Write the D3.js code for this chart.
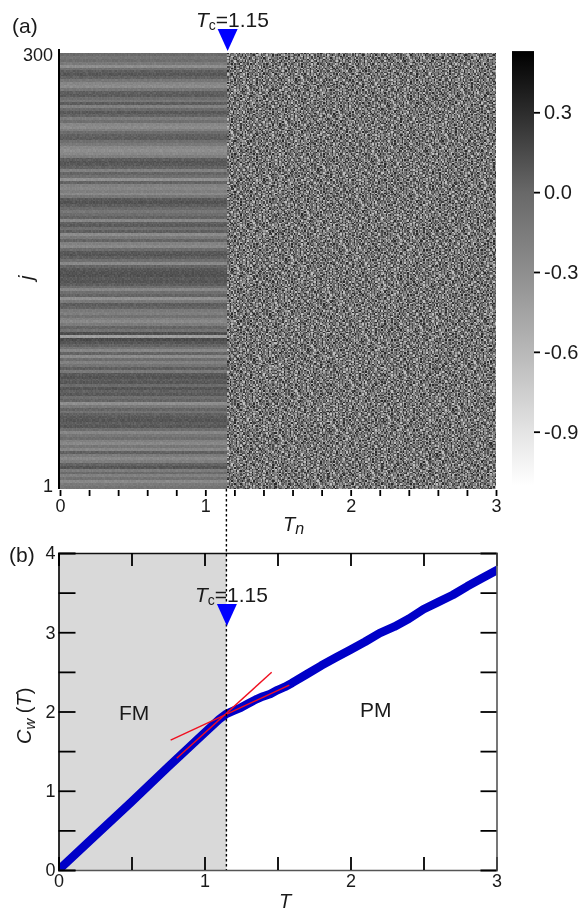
<!DOCTYPE html>
<html>
<head>
<meta charset="utf-8">
<script src="https://cdn.jsdelivr.net/npm/d3@7"></script>
<style>
  html, body { margin: 0; padding: 0; background: #fff; }
  #wrap { position: relative; width: 582px; height: 909px; overflow: hidden; }
  canvas, svg { position: absolute; left: 0; top: 0; }
  text { font-family: "Liberation Sans", Arial, sans-serif; fill: #1a1a1a; }
</style>
</head>
<body>
<div id="wrap">
  <canvas id="heat" width="582" height="909"></canvas>
  <svg id="chart" width="582" height="909"></svg>
</div>
<script>
const Tc = 1.15;

// colour bar stops
const barValues = [0.53, 0.3, 0, -0.3, -0.6, -0.9, -1.1];
const barGrays = ['#000000', '#2c2c2c', '#686868', '#8e8e8e', '#b8b8b8', '#e4e4e4', '#ffffff'];
const barTicks = [0.3, 0, -0.3, -0.6, -0.9];

// panel (a), FM side: level of each horizontal band, two rows per entry, top (j=300) to bottom.
// estimated by eye from the stripes
const fmBands = [
  -0.03, -0.10, -0.05, -0.14, -0.30, -0.06, 0.05, 0.08, 0.02, -0.12,
  -0.24, -0.28, -0.12, 0.04, 0.06, -0.05, -0.12, 0.05, -0.20, -0.02,
  0.07, 0.02, -0.16, -0.06, -0.24, -0.28, -0.18, -0.04, 0.03, 0.05,
  -0.06, -0.14, -0.26, -0.30, -0.26, -0.18, 0.05, 0.09, 0.07, 0.02,
  -0.20, 0.01, -0.06, -0.32, 0.01, -0.20, -0.24, -0.18, -0.26, -0.12,
  0.07, 0.10, 0.05, -0.03, -0.12, -0.05, 0.02, -0.24, 0.03, 0.06,
  -0.06, 0.04, -0.28, -0.14, 0.01, -0.20, -0.26, -0.04, 0.07, 0.09,
  0.04, -0.06, -0.26, 0.01, 0.08, 0.10, 0.11, 0.07, 0.09, 0.05,
  -0.05, -0.24, -0.06, 0.01, -0.32, -0.14, 0.05, 0.02, -0.14, -0.18,
  -0.08, -0.20, -0.26, -0.16, 0.01, -0.08, 0.12, -0.42, 0.14, 0.09,
  0.02, -0.10, -0.24, 0.01, -0.28, -0.05, -0.20, -0.10, 0.04, -0.14,
  0.07, 0.10, 0.05, 0.08, -0.03, 0.09, 0.03, 0.07, -0.06, 0.01,
  -0.30, -0.14, 0.01, -0.08, 0.03, 0.07, 0.09, 0.05, 0.08, -0.05,
  -0.24, -0.12, -0.05, -0.20, -0.26, -0.12, -0.24, 0.03, -0.16, -0.26,
  -0.18, 0.02, 0.09, -0.16, -0.03, -0.20, -0.08, -0.26, -0.14, -0.10
];

// panel (a), PM side: the single cells cannot be read one by one, so this is a hand-typed
// sample of the speckle (digit = index into pmLevels), tiled over the region.
const pmLevels = [-0.66, -0.46, -0.33, -0.23, -0.14, -0.06, 0.02, 0.1, 0.19, 0.32];
const pmSample = [
  '5728361947205836174925063817429650382',
  '3861570429367158204763915280647139526',
  '6204938571642093758126485037916284753',
  '1759364208157936402865713942086573194',
  '8436027915486230719358264071593846207',
  '2695148730926451837062598143706295418',
  '7310856294738016529474160385927406135',
  '4962713058462971350826749316058274963',
  '0583627419058364297156038472915680374',
  '6847205936174820563917428065391746258',
  '3126958407362591480736259148603725917',
  '9574016283957402618395047261839506142',
  '2860745139628475103964728150396472851',
  '5394172860647315920586431729064851372',
  '7049386215738296140573862914067352986',
  '1685927340516294873061749528316047295',
  '8032764951240879365126084937562419803',
  '3757148062913586240479315602874196538',
  '6218490735684127953042861579306428174',
  '4903572681375904216897453120685937426',
  '7165823049527168340926718354092653718',
  '2538904761839245076183529406178352640',
  '9680217453076492815367940218563074192',
  '5342796018462853971064283751906342581',
  '1874063295730518462970364158297401635',
  '6029581347926041735862097341568209473',
  '3795164820584372906157482063917524086',
  '8416392570162938457203691845720361958',
  '0263745918479026358194702563184972065',
  '7958120436215874903627195038264715390',
  '4531876209368417520936254807193658241'
];

// panel (b): C_w(T)
const curveT = [0, 0.25, 0.5, 0.75, 1, 1.1, 1.15, 1.2, 1.25, 1.3, 1.35, 1.4, 1.45, 1.5, 1.55, 1.6, 1.7, 1.8, 1.9, 2, 2.1, 2.2, 2.3, 2.4, 2.5, 2.6, 2.7, 2.8, 2.9, 3];
const curveC = [0, 0.43, 0.86, 1.3, 1.73, 1.9, 1.97, 2.01, 2.05, 2.1, 2.15, 2.19, 2.22, 2.27, 2.31, 2.36, 2.47, 2.58, 2.68, 2.78, 2.88, 2.99, 3.07, 3.17, 3.29, 3.38, 3.47, 3.58, 3.68, 3.78];

// red fit lines, end points
const fitLow = [[0.81, 1.41], [1.46, 2.495]];
const fitHigh = [[0.768, 1.64], [1.581, 2.334]];

const nCols = 300;
const nRows = 300;
const fontSize = 18;

const svg = d3.select('#chart');

// scales
const xA = d3.scaleLinear().domain([0, 3]).range([60, 496]);
const yA = d3.scaleLinear().domain([0.5, 300.5]).range([489, 53]);
const xB = d3.scaleLinear().domain([0, 3]).range([58.5, 496.5]);
const yB = d3.scaleLinear().domain([0, 4]).range([870, 553]);
const gray = d3.scaleLinear().domain(barValues).range(barGrays).clamp(true);
const yBar = d3.scaleLinear().domain([0.3, -0.9]).range([112.3, 431.7]);

// heat map: one pixel per cell, then stretched through the scales
const off = document.createElement('canvas');
off.width = nCols;
off.height = nRows;
const offCtx = off.getContext('2d');
const sampleH = pmSample.length;
const sampleW = pmSample[0].length;
const tile = (r, c) => {
  const rr = r + 7 * Math.floor(c / sampleW);
  const cc = c + 11 * Math.floor(r / sampleH);
  return pmLevels[+pmSample[rr % sampleH][cc % sampleW]];
};
const meanLevel = d3.mean(pmLevels);
d3.range(nRows).forEach((r) => {
  d3.range(nCols).forEach((c) => {
    const isFM = (c + 0.5) / 100 < Tc;
    const v = isFM
      ? fmBands[Math.floor(r / 2)] + (tile(r, c) - meanLevel) * 0.1
      : tile(r, c);
    offCtx.fillStyle = gray(v);
    offCtx.fillRect(c, r, 1, 1);
  });
});
const ctx = document.getElementById('heat').getContext('2d');
ctx.imageSmoothingEnabled = false;
ctx.drawImage(off, xA(0), yA(300.5), xA(3) - xA(0), yA(0.5) - yA(300.5));

// colour bar
const defs = svg.append('defs');
const grad = defs.append('linearGradient').attr('id', 'bar')
  .attr('x1', 0).attr('x2', 0).attr('y1', 0).attr('y2', 1);
const barTop = yBar(0.53);
const barBottom = yBar(-1.1);
grad.selectAll('stop').data(barValues).enter().append('stop')
  .attr('offset', (d) => (yBar(d) - barTop) / (barBottom - barTop))
  .attr('stop-color', (d) => gray(d));
svg.append('rect').attr('x', 512).attr('y', barTop).attr('width', 22)
  .attr('height', barBottom - barTop).attr('fill', 'url(#bar)');

const barAxis = svg.append('g').attr('transform', 'translate(534,0)')
  .call(d3.axisRight(yBar).tickValues(barTicks).tickSize(6).tickPadding(4)
    .tickFormat((d) => d.toFixed(1)));
barAxis.select('.domain').remove();

// panel (a) axes
const axA = svg.append('g').attr('transform', 'translate(0,490)')
  .call(d3.axisBottom(xA).tickValues(d3.range(0, 3.01, 0.2)).tickSize(6).tickPadding(3)
    .tickFormat((d) => Math.abs(d - Math.round(d)) < 1e-6 ? d3.format('d')(Math.round(d)) : ''));
axA.select('.domain').remove();

svg.append('line').attr('x1', 59).attr('x2', 59).attr('y1', 49).attr('y2', 489)
  .attr('stroke', '#000').attr('stroke-width', 2);
svg.selectAll('.jLabel').data([1, 300]).enter().append('text').attr('class', 'jLabel')
  .attr('x', 53).attr('y', (d) => yA(d)).attr('dy', (d) => d === 1 ? '0.2em' : '0.4em')
  .attr('text-anchor', 'end').text((d) => d);

// panel (b) background, curve, fits
svg.append('rect').attr('x', xB(0)).attr('y', yB(4)).attr('width', xB(Tc) - xB(0))
  .attr('height', yB(0) - yB(4)).attr('fill', '#d9d9d9');

defs.append('clipPath').attr('id', 'plotB').append('rect')
  .attr('x', xB(0)).attr('y', yB(4)).attr('width', xB(3) - xB(0)).attr('height', yB(0) - yB(4));

const lineB = d3.line().x((d) => xB(d[0])).y((d) => yB(d[1]));

svg.append('path').datum(d3.zip(curveT, curveC))
  .attr('clip-path', 'url(#plotB)')
  .attr('d', lineB)
  .attr('fill', 'none').attr('stroke', '#0000c8').attr('stroke-width', 8.5)
  .attr('stroke-linecap', 'square').attr('stroke-linejoin', 'round');

svg.selectAll('.fit').data([fitLow, fitHigh]).enter().append('path').attr('class', 'fit')
  .attr('d', lineB).attr('fill', 'none').attr('stroke', '#f01020').attr('stroke-width', 1.4);

// dotted line at Tc
svg.append('line').attr('x1', xB(Tc)).attr('x2', xB(Tc)).attr('y1', 489).attr('y2', 870)
  .attr('stroke', '#000').attr('stroke-width', 1.4).attr('stroke-dasharray', '2.5,2.5');

// panel (b) axes
const intLabel = (d) => Number.isInteger(d) ? d : '';
const half = d3.range(0, 3.01, 0.5);
const halfY = d3.range(0, 4.01, 0.5);

const bBottom = svg.append('g').attr('transform', `translate(0,${yB(0)})`)
  .call(d3.axisBottom(xB).tickValues(half).tickSize(-13).tickPadding(3).tickFormat(intLabel));
const bTop = svg.append('g').attr('transform', `translate(0,${yB(4)})`)
  .call(d3.axisTop(xB).tickValues(half).tickSize(-13).tickFormat(''));
const bLeft = svg.append('g').attr('transform', `translate(${xB(0)},0)`)
  .call(d3.axisLeft(yB).tickValues(halfY).tickSize(-17).tickPadding(3).tickFormat(intLabel));
const bRight = svg.append('g').attr('transform', `translate(${xB(3)},0)`)
  .call(d3.axisRight(yB).tickValues(halfY).tickSize(-16).tickFormat(''));

[barAxis, axA, bBottom, bTop, bLeft, bRight].forEach((a) => {
  a.attr('font-family', null).attr('font-size', null);
  a.selectAll('text').style('font-size', fontSize + 'px');
  a.selectAll('line').attr('stroke', '#000').attr('stroke-width', 1.8);
  a.selectAll('.domain').attr('stroke-width', 1.6).attr('stroke', '#111');
});
barAxis.selectAll('text').style('font-size', '20px');
bBottom.select('.domain').attr('stroke', '#555');
bRight.select('.domain').attr('stroke', '#555');
bLeft.select('.domain').attr('stroke', '#000');
bBottom.selectAll('text').attr('y', 4);
svg.selectAll('.jLabel').style('font-size', fontSize + 'px');

// text labels
const label = (x, y, str, opts = {}) => svg.append('text').attr('x', x).attr('y', y)
  .style('font-size', (opts.size || fontSize) + 'px')
  .style('font-style', opts.italic ? 'italic' : 'normal')
  .attr('text-anchor', opts.anchor || 'start')
  .text(str);

label(12, 33, '(a)', { size: 21 });
label(9, 562, '(b)', { size: 21 });
label(119, 720, 'FM', { size: 21 });
label(360, 717, 'PM', { size: 21 });

// Tc markers
const tcLabel = (x, y) => {
  const t = svg.append('text').attr('x', x).attr('y', y).style('font-size', '21px');
  t.append('tspan').style('font-style', 'italic').text('T');
  t.append('tspan').attr('dy', 3).style('font-size', '14px').text('c');
  t.append('tspan').attr('dy', -3).text('=1.15');
};
tcLabel(196, 27);
tcLabel(195, 602);

const triangle = (cx, top, w, h) => svg.append('path')
  .attr('d', `M${cx - w / 2},${top}L${cx + w / 2},${top}L${cx},${top + h}Z`).attr('fill', '#0000ff');
triangle(xA(Tc) + 0.5, 29, 20, 22);
triangle(xB(Tc) + 0.5, 604, 20, 22);

// axis titles
const tn = svg.append('text').attr('x', 283).attr('y', 531).style('font-size', '20px').style('font-style', 'italic');
tn.append('tspan').text('T');
tn.append('tspan').attr('dy', 3).style('font-size', '16px').text('n');
label(279, 908, 'T', { size: 20, italic: true });

svg.append('text').attr('transform', 'translate(33,280) rotate(-90)')
  .style('font-size', '20px').style('font-style', 'italic').text('j');

const cw = svg.append('text').attr('transform', 'translate(31,744) rotate(-90)').style('font-size', '20px');
cw.append('tspan').style('font-style', 'italic').text('C');
cw.append('tspan').attr('dy', 4).style('font-size', '15px').style('font-style', 'italic').text('w');
cw.append('tspan').attr('dy', -4).text(' (');
cw.append('tspan').style('font-style', 'italic').text('T');
cw.append('tspan').text(')');
</script>
</body>
</html>
